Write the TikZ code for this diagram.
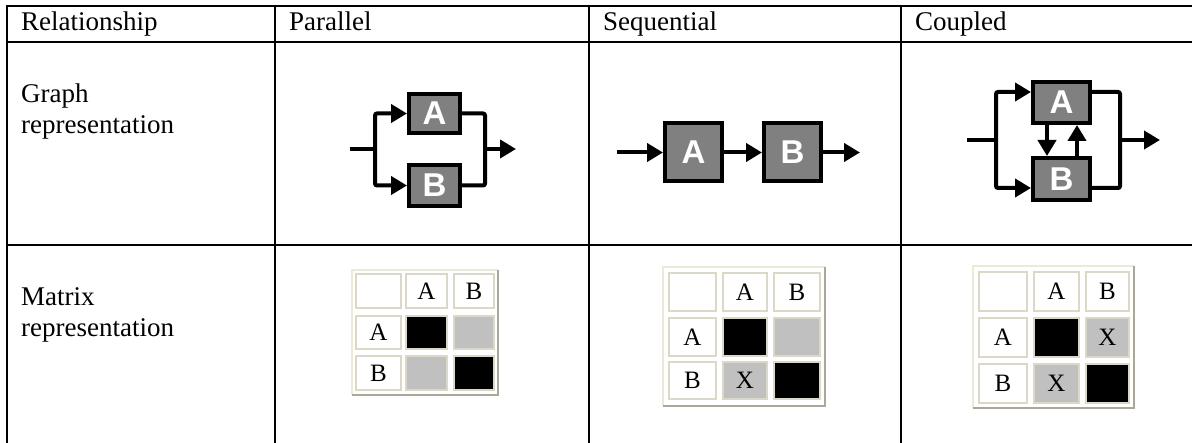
\documentclass[tikz,border=0pt]{standalone}
\usepackage{fontspec}
\setmainfont{Liberation Serif}
\newfontfamily\boxfont{Liberation Sans}
\usetikzlibrary{arrows.meta}
\definecolor{boxgray}{RGB}{128,128,128}
\definecolor{cellline}{RGB}{220,216,200}
\definecolor{framelight}{RGB}{236,233,216}
\definecolor{framedark}{RGB}{172,168,153}
\definecolor{cellgray}{RGB}{192,192,192}
\tikzset{
  tline/.style={line width=2pt, line cap=rect},
  lbl/.style={anchor=base west, inner sep=0pt, font=\fontsize{27}{31}\selectfont},
  gbox/.style={draw=black, line width=4pt, fill=boxgray, inner sep=0pt, text=white, font=\boxfont\bfseries\fontsize{33}{33}\selectfont},
  wire/.style={line width=4pt, rounded corners=2pt},
  arr/.style={wire, -{Triangle[length=16pt,width=18pt]}},
  cell/.style={draw=cellline, line width=1.6pt, inner sep=0pt, font=\fontsize{25}{25}\selectfont},
  wcell/.style={cell, fill=white},
  bcell/.style={cell, fill=black},
  gcell/.style={cell, fill=cellgray},
}
\begin{document}
\begin{tikzpicture}[x=1pt, y=-1pt]
\useasboundingbox (0,0) rectangle (1192,443);
% table lines
\draw[tline] (7,6) -- (1192,6);
\draw[tline] (7,42) -- (1192,42);
\draw[tline] (7,245) -- (1192,245);
\draw[tline] (7,6) -- (7,443);
\draw[tline] (275,6) -- (275,443);
\draw[tline] (589,6) -- (589,443);
\draw[tline] (901,6) -- (901,443);
% header texts
\node[lbl] (h1) at (21,31) {Relationship};
\node[lbl] (h2) at (289,31) {Parallel};
\node[lbl] (h3) at (603,31) {Sequential};
\node[lbl] (h4) at (915,31) {Coupled};
\node[lbl] (r1a) at (21,103) {Graph};
\node[lbl] (r1b) at (21,134) {representation};
\node[lbl] (r2a) at (21,306) {Matrix};
\node[lbl] (r2b) at (21,337) {representation};

% ---------- Parallel graph
\node[gbox, minimum width=51pt, minimum height=39pt] (pA) at (434.5,113.5) {A};
\node[gbox, minimum width=51pt, minimum height=41pt] (pB) at (434.5,185.5) {B};
\coordinate (pin) at (350,149);
\coordinate (pj) at (375,149);
\coordinate (pout) at (485,149);
\coordinate (pend) at (516,149);
\draw[wire] (pin) -- (pj);
\draw[arr] (pj) |- (pA.west);
\draw[arr] (pj) |- (pB.west);
\draw[wire] (pA.east) -| (pout);
\draw[wire] (pB.east) -| (pout);
\draw[arr] (pout) -- (pend);

% ---------- Sequential graph
\node[gbox, minimum width=57pt, minimum height=58pt] (sA) at (693.5,152.5) {A};
\node[gbox, minimum width=57pt, minimum height=58pt] (sB) at (792.5,152.5) {B};
\coordinate (sin) at (617,152.5);
\coordinate (send) at (860,152.5);
\draw[arr] (sin) -- (sA.west);
\draw[arr] (sA.east) -- (sB.west);
\draw[arr] (sB.east) -- (send);

% ---------- Coupled graph
\node[gbox, minimum width=57pt, minimum height=41pt] (cA) at (1061.5,102.5) {A};
\node[gbox, minimum width=57pt, minimum height=42pt] (cB) at (1061.5,179) {B};
\coordinate (cin) at (967,140);
\coordinate (cj) at (996,140);
\coordinate (cout) at (1120,140);
\coordinate (cend) at (1160,140);
\draw[wire] (cin) -- (cj);
\draw[arr] (cj) |- ([yshift=10.5pt]cA.west);
\draw[arr] (cj) |- ([yshift=-9pt]cB.west);
\draw[wire] ([yshift=10.5pt]cA.east) -| (cout);
\draw[wire] ([yshift=-9pt]cB.east) -| (cout);
\draw[arr] (cout) -- (cend);
\draw[arr] ([xshift=-14.5pt]cA.south) -- ([xshift=-14.5pt]cB.north);
\draw[arr] ([xshift=15.5pt]cB.north) -- ([xshift=15.5pt]cA.south);

% ---------- Parallel matrix
\draw[framelight, line width=1.5pt] (352,395) -- (352,270) -- (498,270);
\draw[framedark, line width=1.5pt] (498,270) -- (498,395) -- (352,395);
\node[wcell, minimum width=45pt, minimum height=34pt] (pm00) at (378.5,291) {};
\node[wcell, minimum width=41pt, minimum height=34pt] (pm01) at (426.5,291) {A};
\node[wcell, minimum width=40pt, minimum height=34pt] (pm02) at (474,291) {B};
\node[wcell, minimum width=45pt, minimum height=33pt] (pm10) at (378.5,332.5) {A};
\node[bcell, minimum width=41pt, minimum height=33pt] (pm11) at (426.5,332.5) {};
\node[gcell, minimum width=40pt, minimum height=33pt] (pm12) at (474,332.5) {};
\node[wcell, minimum width=45pt, minimum height=34pt] (pm20) at (378.5,373) {B};
\node[gcell, minimum width=41pt, minimum height=34pt] (pm21) at (426.5,373) {};
\node[bcell, minimum width=40pt, minimum height=34pt] (pm22) at (474,373) {};

% ---------- Sequential matrix
\draw[framelight, line width=1.5pt] (663,406) -- (663,267) -- (825,267);
\draw[framedark, line width=1.5pt] (825,267) -- (825,406) -- (663,406);
\node[wcell, minimum width=47pt, minimum height=38pt] (sm00) at (692.5,292) {};
\node[wcell, minimum width=44pt, minimum height=38pt] (sm01) at (745,292) {A};
\node[wcell, minimum width=46pt, minimum height=38pt] (sm02) at (797,292) {B};
\node[wcell, minimum width=47pt, minimum height=38pt] (sm10) at (692.5,337) {A};
\node[bcell, minimum width=44pt, minimum height=38pt] (sm11) at (745,337) {};
\node[gcell, minimum width=46pt, minimum height=38pt] (sm12) at (797,337) {};
\node[wcell, minimum width=47pt, minimum height=37pt] (sm20) at (692.5,380.5) {B};
\node[gcell, minimum width=44pt, minimum height=37pt] (sm21) at (745,380.5) {X};
\node[bcell, minimum width=46pt, minimum height=37pt] (sm22) at (797,380.5) {};

% ---------- Coupled matrix
\draw[framelight, line width=1.5pt] (973,408) -- (973,266) -- (1134,266);
\draw[framedark, line width=1.5pt] (1134,266) -- (1134,408) -- (973,408);
\node[wcell, minimum width=48pt, minimum height=39pt] (cm00) at (1003,291.5) {};
\node[wcell, minimum width=45pt, minimum height=39pt] (cm01) at (1056.5,291.5) {A};
\node[wcell, minimum width=43pt, minimum height=39pt] (cm02) at (1107.5,291.5) {B};
\node[wcell, minimum width=48pt, minimum height=39pt] (cm10) at (1003,337.5) {A};
\node[bcell, minimum width=45pt, minimum height=39pt] (cm11) at (1056.5,337.5) {};
\node[gcell, minimum width=43pt, minimum height=39pt] (cm12) at (1107.5,337.5) {X};
\node[wcell, minimum width=48pt, minimum height=39pt] (cm20) at (1003,383.5) {B};
\node[gcell, minimum width=45pt, minimum height=39pt] (cm21) at (1056.5,383.5) {X};
\node[bcell, minimum width=43pt, minimum height=39pt] (cm22) at (1107.5,383.5) {};
\end{tikzpicture}
\end{document}
